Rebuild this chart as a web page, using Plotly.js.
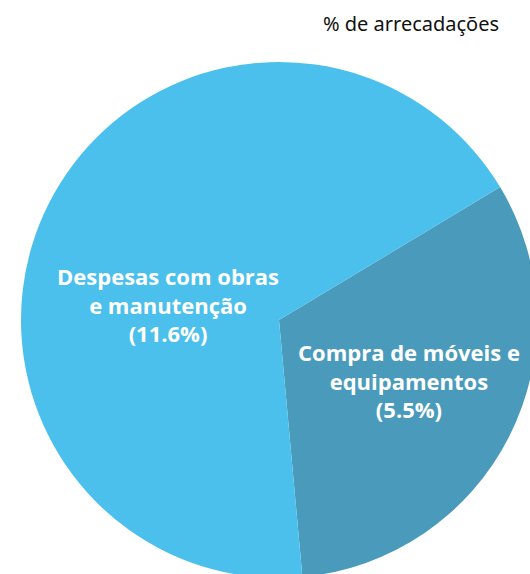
<!DOCTYPE html>
<html>
<head>
<meta charset="utf-8">
<script src="https://cdn.plot.ly/plotly-3.0.1.min.js"></script>
<style>
  html, body { margin: 0; padding: 0; overflow: hidden; background: #fff; }
</style>
</head>
<body>
<div id="plotDiv"></div>
<script>
// fatias (% de arrecadações)
var categorias = ['Compra de móveis e<br>equipamentos', 'Despesas com obras<br>e manutenção'];
var valores = [5.5, 11.6];
var cores = ['#4a9bbb', '#4bc0ec'];
// onde fica o rótulo de cada fatia (coordenadas paper)
var rotuloX = [0.752, 0.285];
var rotuloY = [0.382, 0.531];

var trace1 = {
  type: 'pie',
  labels: categorias,
  values: valores,
  textinfo: 'none',
  hoverinfo: 'none',
  sort: false,
  direction: 'clockwise',
  rotation: 59,
  marker: { colors: cores, line: { width: 0 } }
};

var rotulos = [];
for (let i = 0; i < valores.length; i++) {
  rotulos.push({
    text: categorias[i] + '<br>(' + valores[i].toFixed(1) + '%)',
    xref: 'paper', yref: 'paper',
    x: rotuloX[i], y: rotuloY[i],
    xanchor: 'center', yanchor: 'middle',
    showarrow: false,
    font: { family: 'Open Sans, sans-serif', size: 22, color: '#ffffff', weight: 700 }
  });
}

var layout = {
  width: 540,
  height: 580,
  margin: { l: 21, r: 3, t: 62, b: 2 },
  showlegend: false,
  paper_bgcolor: '#ffffff',
  annotations: rotulos,
  title: {
    text: '% de arrecadações',
    font: { family: 'Noto Sans, sans-serif', size: 20, color: '#111111' },
    xref: 'container', yref: 'container',
    x: 411 / 540, xanchor: 'center',
    y: 1 - 24 / 580, yanchor: 'middle'
  }
};

Plotly.newPlot('plotDiv', [trace1], layout, { displayModeBar: false, staticPlot: true });
</script>
</body>
</html>
